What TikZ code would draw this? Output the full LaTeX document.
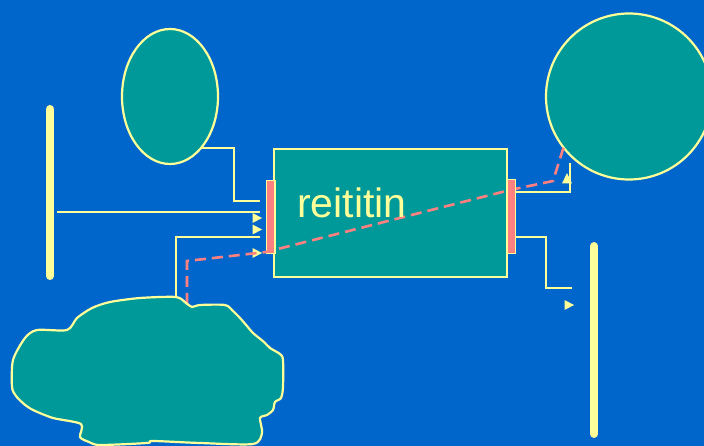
\documentclass[tikz,border=0pt]{standalone}
\usepackage{fontspec}
\setmainfont{Liberation Sans}
\usetikzlibrary{shapes.geometric}
\definecolor{bg}{HTML}{0066CC}
\definecolor{teal1}{HTML}{009999}
\definecolor{ly}{HTML}{FFFF99}
\definecolor{pk}{HTML}{FF8080}
\begin{document}
\begin{tikzpicture}[x=1pt,y=-1pt,
  ln/.style={draw=ly, line width=2.2pt},
  shp/.style={draw=ly, line width=2.2pt, fill=teal1},
  bar/.style={draw=ly, line width=8pt, line cap=round},
  port/.style={draw=ly, line width=1.5pt, fill=pk, inner sep=0pt},
  tip/.style={fill=ly},
  dsh/.style={draw=pk, line width=2.6pt, dash pattern=on 11pt off 6pt}]
\fill[bg] (0,0) rectangle (704,446);
\useasboundingbox (0,0) rectangle (704,446);
\clip (0,0) rectangle (704,446);
% connectors (under shapes)
\coordinate (e1) at (195,148);
\coordinate (e2) at (234,148);
\coordinate (e3) at (234,201);
\coordinate (e4) at (260,201);
\draw[ln] (e1) -- (e2) -- (e3) -- (e4);
\coordinate (b1) at (57,212);
\coordinate (b2) at (260,212);
\draw[ln] (b1) -- (b2);
\coordinate (c1) at (176,300);
\coordinate (c2) at (176,237);
\coordinate (c3) at (260,237);
\draw[ln] (c1) -- (c2) -- (c3);
\coordinate (r1) at (512,192);
\coordinate (r2) at (570,192);
\coordinate (r3) at (570,163);
\draw[ln] (r1) -- (r2) -- (r3);
\coordinate (s1) at (512,237);
\coordinate (s2) at (546,237);
\coordinate (s3) at (546,288);
\coordinate (s4) at (572,288);
\draw[ln] (s1) -- (s2) -- (s3) -- (s4);
% bars
\coordinate (lb1) at (50,109);
\coordinate (lb2) at (50,276);
\draw[bar] (lb1) -- (lb2);
\coordinate (rb1) at (594,246);
\coordinate (rb2) at (594,434);
\draw[bar] (rb1) -- (rb2);
% arrow tips
\fill[tip] (252.5,213) -- (262,218) -- (252.5,223) -- cycle;
\fill[tip] (252.5,224.5) -- (262,229.5) -- (252.5,234.5) -- cycle;
\fill[tip] (252.5,248) -- (262,253) -- (252.5,258) -- cycle;
\fill[tip] (562,183.5) -- (567,173) -- (572,183.5) -- cycle;
\fill[tip] (564.5,300) -- (574,305) -- (564.5,310) -- cycle;
% shapes
\node[shp, ellipse, minimum width=96pt, minimum height=135pt, inner sep=0pt] (ell) at (170,96.5) {};
\node[shp, circle, minimum size=166pt, inner sep=0pt] (circ) at (629,96.5) {};
\node[shp, rectangle, minimum width=233pt, minimum height=128pt, anchor=north west, inner sep=0pt] (box) at (273,148) {};
\node[port, minimum width=8.5pt, minimum height=73pt, anchor=north west] (lp) at (265.5,180) {};
% dashed path
\coordinate (d1) at (187,304);
\coordinate (d2) at (187,261);
\coordinate (d3) at (266,252);
\coordinate (d4) at (510,190);
\coordinate (d5) at (553,181);
\coordinate (d6) at (564,146);
\draw[dsh] (d1) -- (d2) -- (d3) -- (d4) -- (d5) -- (d6);
\node[port, minimum width=8.5pt, minimum height=74pt, anchor=north west] (rp) at (506,179) {};
% label
\node[anchor=base west, inner sep=0pt, text=ly, font=\fontsize{41}{41}\selectfont] (lbl) at (297,218) {reititin};
% cloud
\draw[shp] plot[smooth cycle, tension=0.45] coordinates {
 (176,297) (140,298) (110,302) (92,308) (77,318) (67,330) (37,330) (25,338)
 (13,360) (12,387) (16,396) (24,404) (33,410) (53,418) (81,424) (80,437)
 (89,442) (100,445) (147,443) (153,441) (200,443) (253,444) (262,433)
 (260,418) (267,415) (273,410) (275,402) (281,398) (283,387) (283,360)
 (280,354) (270,348) (264,342) (253,333) (247,326) (240,318) (233,311)
 (225,305) (200,305) (192,307) (186,303)};
\end{tikzpicture}
\end{document}
